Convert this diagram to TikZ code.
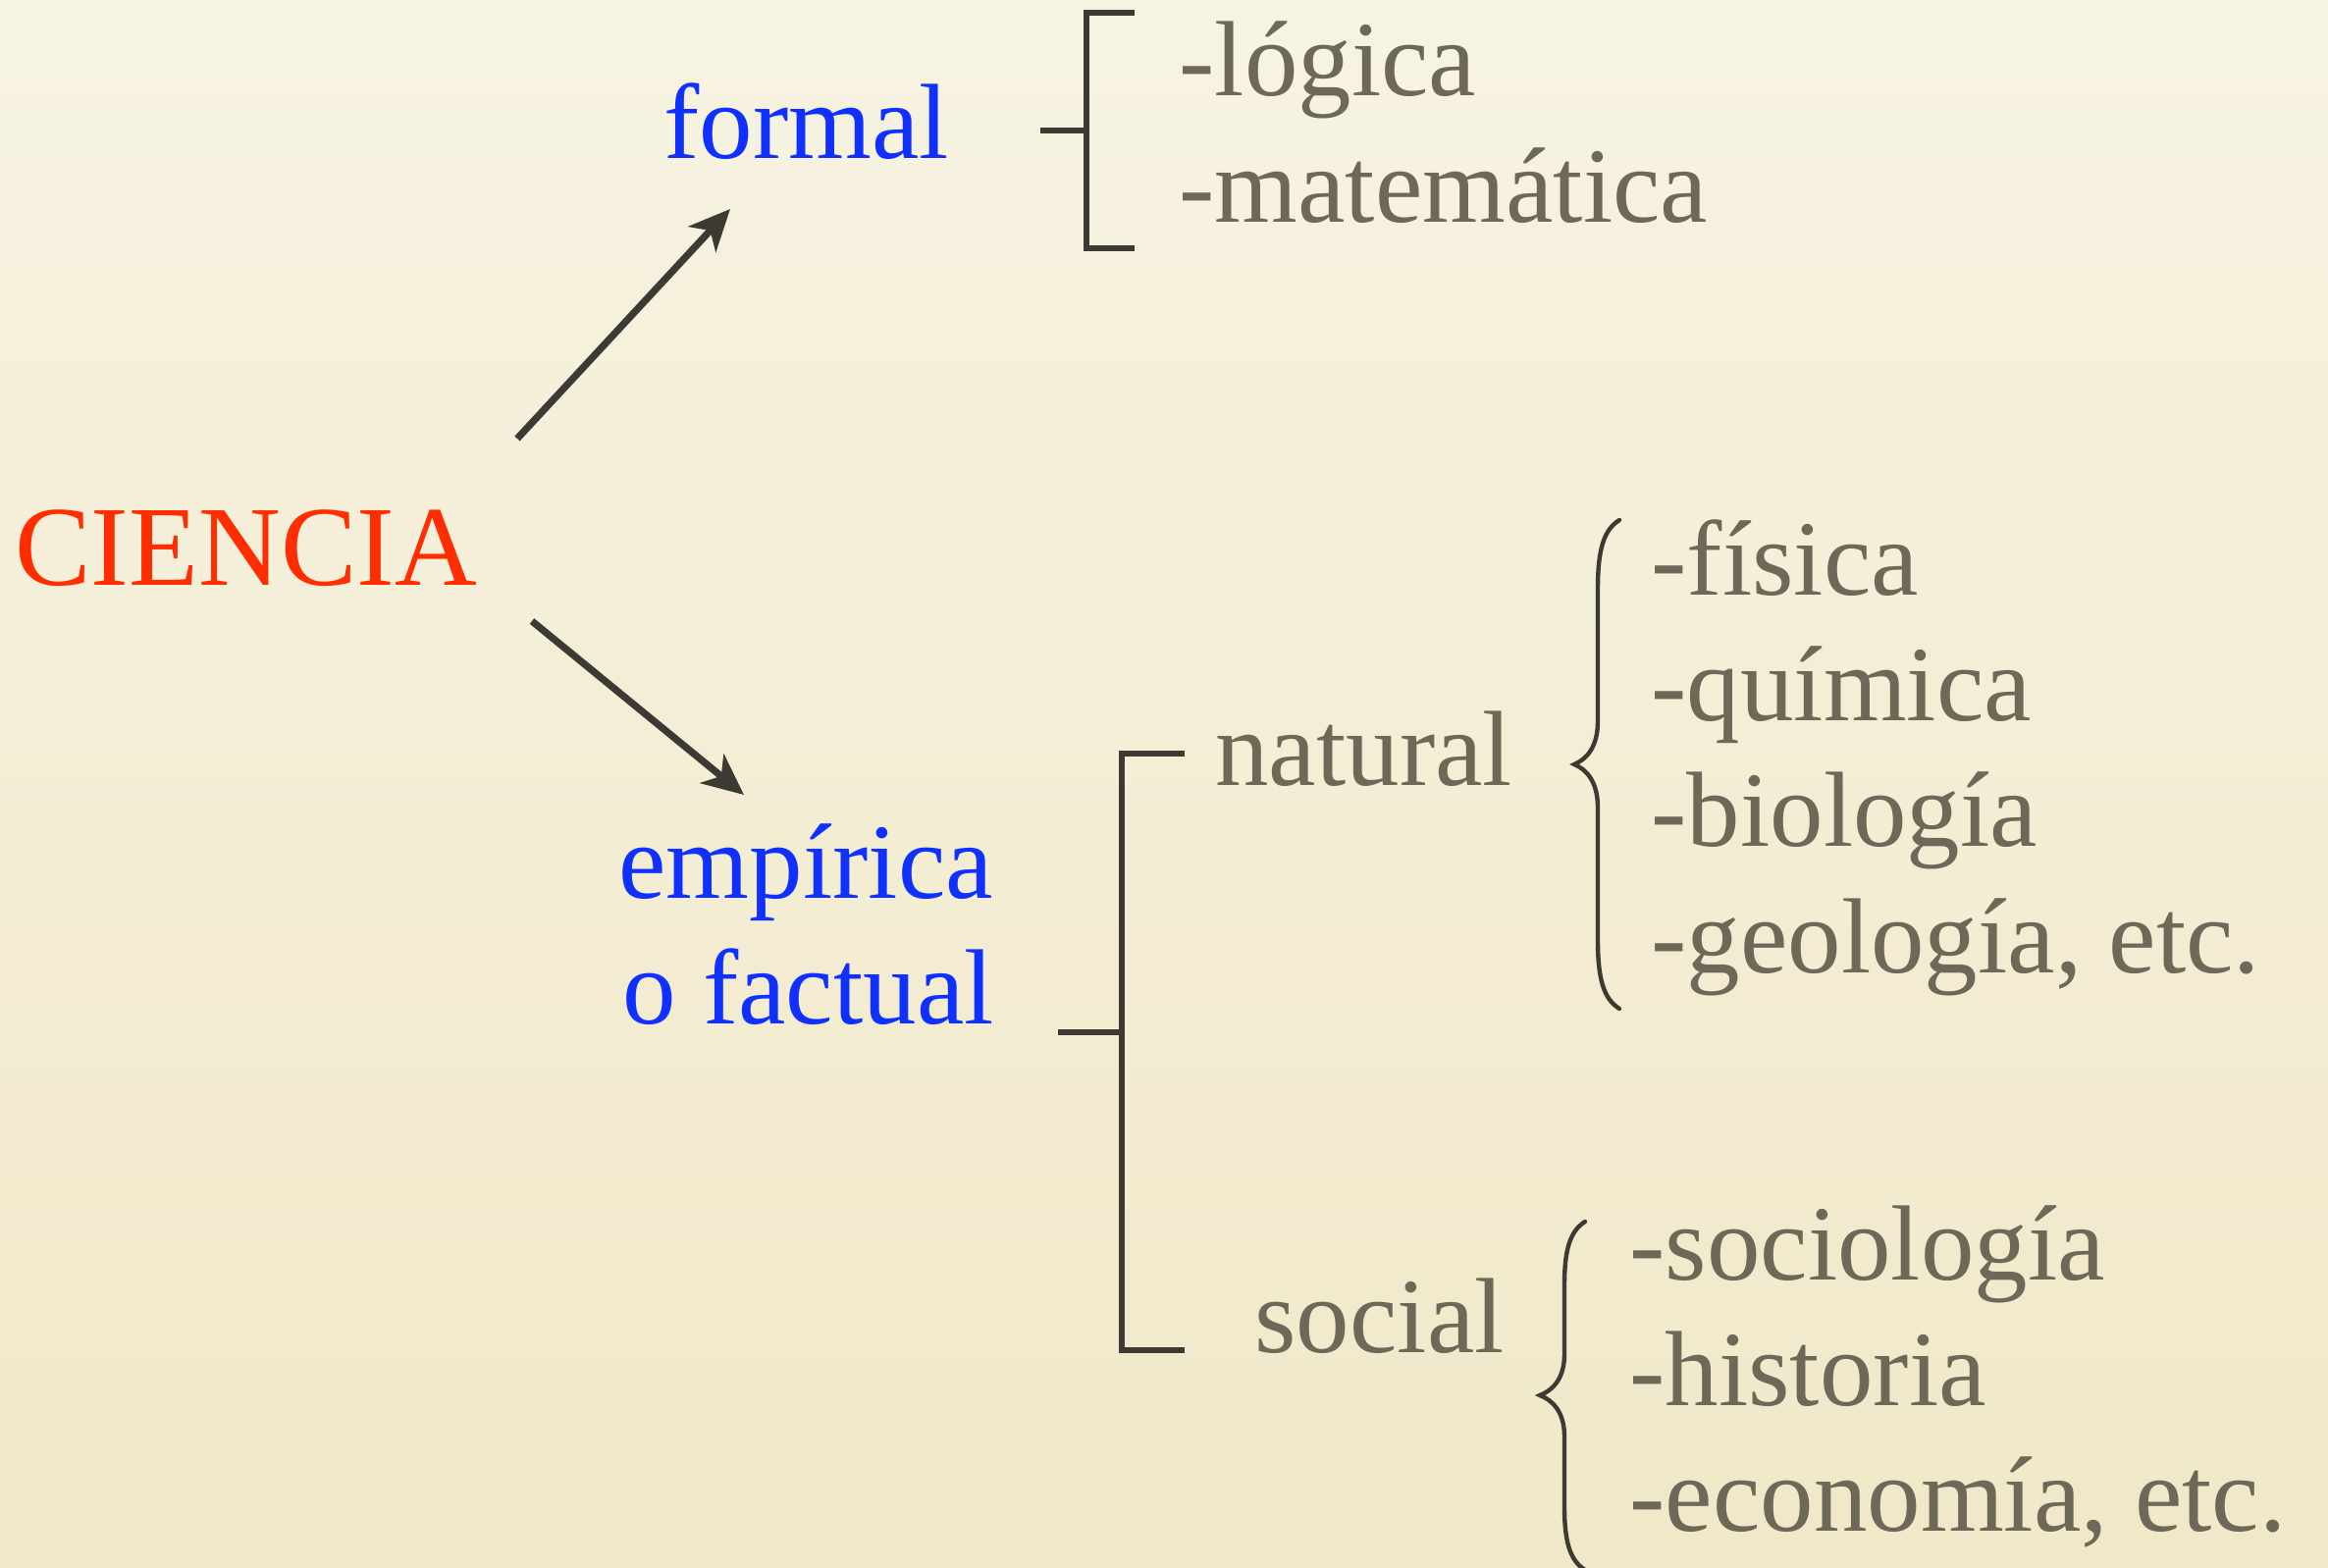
\documentclass[tikz,border=0pt]{standalone}
\usepackage{fontspec}
\setmainfont{Liberation Serif}
\usetikzlibrary{arrows.meta}
\definecolor{bgtop}{HTML}{F7F3E2}
\definecolor{bgbot}{HTML}{F0E8C8}
\definecolor{cred}{HTML}{FF2D00}
\definecolor{cblue}{HTML}{1030FF}
\definecolor{cgray}{HTML}{6E6859}
\definecolor{cline}{HTML}{3C3A32}
\tikzset{
  lbl/.style={inner sep=0pt, anchor=base west, font=\fontsize{54.5}{60}\selectfont},
  graylbl/.style={lbl, text=cgray},
  bluelbl/.style={lbl, text=cblue},
  redlbl/.style={lbl, text=cred, font=\fontsize{58}{62}\selectfont},
  arrowline/.style={draw=cline, line width=3.6pt, -{Stealth[length=21pt,width=19pt,inset=6pt]}},
  bracketline/.style={draw=cline, line width=2.8pt},
  braceline/.style={draw=cline, line width=2.2pt, line cap=round}
}
\begin{document}
\begin{tikzpicture}[x=0.5pt,y=-0.5pt]
\useasboundingbox (0,0) rectangle (2372,1598);
\shade[top color=bgtop, bottom color=bgbot] (0,0) rectangle (2372,1598);

% main labels
\node[redlbl] (ciencia) at (15,597) {CIENCIA};
\node[bluelbl] (formal) at (676,162) {formal};
\node[bluelbl] (emp) at (630,915) {empírica};
\node[bluelbl] (fact) at (634,1043) {o factual};

% arrows
\coordinate (a1s) at (527,447);
\coordinate (a1e) at (744,213);
\coordinate (a2s) at (542,633);
\coordinate (a2e) at (758,810);
\draw[arrowline] (a1s) -- (a1e);
\draw[arrowline] (a2s) -- (a2e);

% formal branch
\coordinate (fb0) at (1060,133);
\coordinate (fbm) at (1107,133);
\coordinate (fbt) at (1107,13);
\coordinate (fbb) at (1107,253);
\coordinate (fbt2) at (1156,13);
\coordinate (fbb2) at (1156,253);
\draw[bracketline] (fb0) -- (fbm);
\draw[bracketline] (fbt2) -- (fbt) -- (fbb) -- (fbb2);
\node[graylbl] (logica) at (1201,98) {-lógica};
\node[graylbl] (mate) at (1201,227) {-matemática};

% empirical branch
\coordinate (eb0) at (1078,1052);
\coordinate (ebm) at (1143,1052);
\coordinate (ebt) at (1143,768);
\coordinate (ebb) at (1143,1376);
\coordinate (ebt2) at (1207,768);
\coordinate (ebb2) at (1207,1376);
\draw[bracketline] (eb0) -- (ebm);
\draw[bracketline] (ebt2) -- (ebt) -- (ebb) -- (ebb2);

\node[graylbl] (natural) at (1238,800) {natural};
\node[graylbl] (social) at (1278,1378) {social};

% natural brace
\draw[braceline] (1650,530) .. controls (1634,540) and (1628,560) .. (1628,600)
  -- (1628,735) .. controls (1628,762) and (1616,774) .. (1604,779)
  .. controls (1616,784) and (1628,796) .. (1628,823)
  -- (1628,958) .. controls (1628,998) and (1634,1018) .. (1650,1028);
\node[graylbl] (fisica) at (1682,607) {-física};
\node[graylbl] (quimica) at (1682,735) {-química};
\node[graylbl] (biologia) at (1682,863) {-biología};
\node[graylbl] (geologia) at (1682,991) {-geología, etc.};

% social brace
\draw[braceline] (1615,1245) .. controls (1599,1255) and (1594,1275) .. (1594,1310)
  -- (1594,1380) .. controls (1594,1405) and (1582,1417) .. (1569,1422)
  .. controls (1582,1427) and (1594,1439) .. (1594,1464)
  -- (1594,1535) .. controls (1594,1570) and (1599,1590) .. (1615,1600);
\node[graylbl] (socio) at (1660,1304) {-sociología};
\node[graylbl] (historia) at (1660,1432) {-historia};
\node[graylbl] (economia) at (1660,1560) {-economía, etc.};
\end{tikzpicture}
\end{document}
